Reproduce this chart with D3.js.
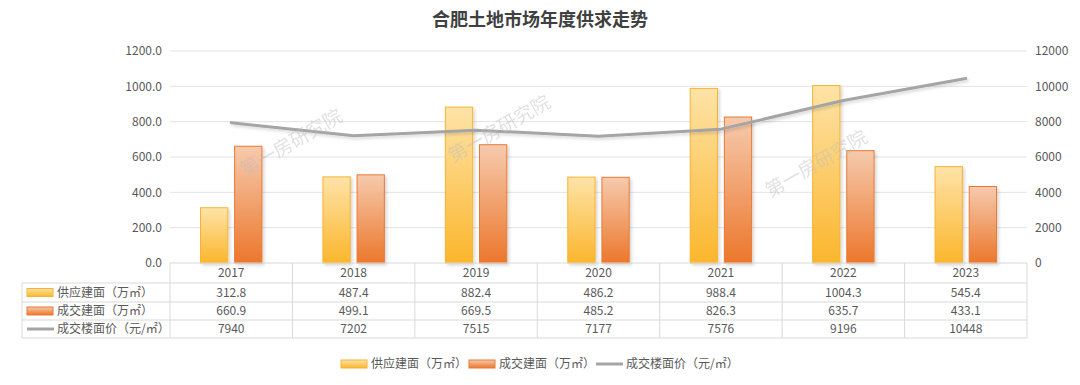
<!DOCTYPE html>
<html>
<head>
<meta charset="utf-8">
<script src="https://cdn.jsdelivr.net/npm/d3@7"></script>
<style>
  body { margin: 0; background: #fff; }
  svg text { font-family: "Noto Sans CJK SC", "Noto Sans", sans-serif; }
</style>
</head>
<body>
<svg id="chart"></svg>
<script>
// data
const years = ['2017', '2018', '2019', '2020', '2021', '2022', '2023'];
const supplyArea = [312.8, 487.4, 882.4, 486.2, 988.4, 1004.3, 545.4];
const dealArea = [660.9, 499.1, 669.5, 485.2, 826.3, 635.7, 433.1];
const dealPrice = [7940, 7202, 7515, 7177, 7576, 9196, 10448];
const seriesNames = ['供应建面（万㎡）', '成交建面（万㎡）', '成交楼面价（元/㎡）'];
const leftTicks = [0, 200, 400, 600, 800, 1000, 1200];
const rightTicks = [0, 2000, 4000, 6000, 8000, 10000, 12000];
const chartTitle = '合肥土地市场年度供求走势';
const watermark = '第一房研究院';

const W = 1080, H = 385;
const plot = { left: 170, right: 1027, top: 51, bottom: 263 };
const tableLeft = 22;
const rowLines = [263, 283, 302, 320, 338];
const textColor = '#595959';
const gridColor = '#e3e3e3';
const tableColor = '#d9d9d9';

const svg = d3.select('#chart').attr('width', W).attr('height', H);
const defs = svg.append('defs');

function gradient(id, top, bottom) {
    const g = defs.append('linearGradient').attr('id', id)
        .attr('x1', 0).attr('y1', 0).attr('x2', 0).attr('y2', 1);
    g.append('stop').attr('offset', '0%').attr('stop-color', top);
    g.append('stop').attr('offset', '100%').attr('stop-color', bottom);
}
gradient('gSupply', '#fee3a8', '#fbb62c');
gradient('gDeal', '#f6caad', '#ec772c');

const shadow = defs.append('filter').attr('id', 'shadow')
    .attr('x', '-20%').attr('y', '-20%').attr('width', '150%').attr('height', '150%');
shadow.append('feDropShadow').attr('dx', 2).attr('dy', 2).attr('stdDeviation', 1.8)
    .attr('flood-color', '#000').attr('flood-opacity', 0.15);

// scales
const x = d3.scaleBand().domain(years).range([plot.left, plot.right]).padding(0);
const xSub = d3.scaleBand().domain(['supply', 'deal']).range([30.5, x.bandwidth() - 30.5]).paddingInner(0.2);
const yLeft = d3.scaleLinear().domain([0, 1200]).range([plot.bottom, plot.top]);
const yRight = d3.scaleLinear().domain([0, 12000]).range([plot.bottom, plot.top]);

// title
svg.append('text')
    .attr('x', W / 2).attr('y', 26)
    .attr('text-anchor', 'middle')
    .attr('font-size', '18px').attr('font-weight', 'bold')
    .attr('fill', '#404040')
    .text(chartTitle);

// grid
svg.append('g').selectAll('line')
    .data(leftTicks.filter(d => d > 0))
    .join('line')
    .attr('x1', plot.left).attr('x2', plot.right)
    .attr('y1', d => yLeft(d)).attr('y2', d => yLeft(d))
    .attr('stroke', gridColor).attr('stroke-width', 1);

// left axis
const leftAxis = d3.axisLeft(yLeft).tickValues(leftTicks).tickFormat(d3.format('.1f')).tickSize(0).tickPadding(8);
const leftG = svg.append('g').attr('transform', `translate(${plot.left},0)`).call(leftAxis);
leftG.select('.domain').remove();
leftG.selectAll('text').attr('font-size', '12px').attr('fill', textColor).attr('font-family', '"Noto Sans CJK SC", sans-serif');

// right axis
const rightAxis = d3.axisRight(yRight).tickValues(rightTicks).tickFormat(d3.format('d')).tickSize(0).tickPadding(8);
const rightG = svg.append('g').attr('transform', `translate(${plot.right},0)`).call(rightAxis);
rightG.select('.domain').remove();
rightG.selectAll('text').attr('font-size', '12px').attr('fill', textColor).attr('font-family', '"Noto Sans CJK SC", sans-serif');

// bars
const bars = svg.append('g').attr('filter', 'url(#shadow)');
bars.selectAll('.supply')
    .data(years.map((y, i) => ({ year: y, v: supplyArea[i] })))
    .join('rect')
    .attr('class', 'supply')
    .attr('x', d => x(d.year) + xSub('supply'))
    .attr('width', xSub.bandwidth())
    .attr('y', d => yLeft(d.v))
    .attr('height', d => yLeft(0) - yLeft(d.v))
    .attr('fill', 'url(#gSupply)')
    .attr('stroke', '#f9b232').attr('stroke-width', 1);

bars.selectAll('.deal')
    .data(years.map((y, i) => ({ year: y, v: dealArea[i] })))
    .join('rect')
    .attr('class', 'deal')
    .attr('x', d => x(d.year) + xSub('deal'))
    .attr('width', xSub.bandwidth())
    .attr('y', d => yLeft(d.v))
    .attr('height', d => yLeft(0) - yLeft(d.v))
    .attr('fill', 'url(#gDeal)')
    .attr('stroke', '#e77a35').attr('stroke-width', 1);

// price line
const line = d3.line()
    .x((d, i) => x(years[i]) + x.bandwidth() / 2)
    .y(d => yRight(d));
svg.append('path')
    .datum(dealPrice)
    .attr('d', line)
    .attr('fill', 'none')
    .attr('stroke', '#a5a5a5').attr('stroke-width', 3)
    .attr('stroke-linecap', 'round').attr('stroke-linejoin', 'round')
    .attr('filter', 'url(#shadow)');

// watermarks (drawn over the marks)
const marks = [[292, 144], [500, 130], [817, 165]];
svg.append('g').selectAll('text')
    .data(marks)
    .join('text')
    .attr('transform', d => `translate(${d[0]},${d[1]}) rotate(-30)`)
    .attr('text-anchor', 'middle').attr('dominant-baseline', 'middle')
    .attr('font-size', '19px')
    .attr('fill', '#bdbdbd').attr('opacity', 0.45)
    .text(watermark);

// data table
const table = svg.append('g');
// horizontal lines
table.append('line')
    .attr('x1', plot.left).attr('x2', plot.right)
    .attr('y1', rowLines[0]).attr('y2', rowLines[0])
    .attr('stroke', tableColor);
rowLines.slice(1).forEach(yy => {
    table.append('line')
        .attr('x1', tableLeft).attr('x2', plot.right)
        .attr('y1', yy).attr('y2', yy)
        .attr('stroke', tableColor);
});
// vertical lines
x.domain().forEach(y => {
    table.append('line')
        .attr('x1', x(y)).attr('x2', x(y))
        .attr('y1', rowLines[0]).attr('y2', rowLines[4])
        .attr('stroke', tableColor);
});
table.append('line')
    .attr('x1', plot.right).attr('x2', plot.right)
    .attr('y1', rowLines[0]).attr('y2', rowLines[4])
    .attr('stroke', tableColor);
table.append('line')
    .attr('x1', tableLeft).attr('x2', tableLeft)
    .attr('y1', rowLines[1]).attr('y2', rowLines[4])
    .attr('stroke', tableColor);

const rowMid = i => (rowLines[i] + rowLines[i + 1]) / 2;

// header years
table.selectAll('.yr')
    .data(years)
    .join('text')
    .attr('class', 'yr')
    .attr('x', d => x(d) + x.bandwidth() / 2)
    .attr('y', rowMid(0))
    .attr('dy', '0.35em')
    .attr('text-anchor', 'middle')
    .attr('font-size', '12px').attr('fill', textColor)
    .text(d => d);

const rows = [supplyArea.map(v => v.toFixed(1)), dealArea.map(v => v.toFixed(1)), dealPrice.map(v => String(v))];
rows.forEach((vals, r) => {
    table.selectAll('.r' + r)
        .data(vals)
        .join('text')
        .attr('class', 'r' + r)
        .attr('x', (d, i) => x(years[i]) + x.bandwidth() / 2)
        .attr('y', rowMid(r + 1))
        .attr('dy', '0.35em')
        .attr('text-anchor', 'middle')
        .attr('font-size', '12px').attr('fill', textColor)
        .text(d => d);
});

// legend keys (table + bottom legend)
function drawKey(g, k, kx, ky) {
    if (k === 0 || k === 1) {
        g.append('rect')
            .attr('x', kx).attr('y', ky - 4).attr('width', 26).attr('height', 8)
            .attr('fill', k === 0 ? 'url(#gSupply)' : 'url(#gDeal)')
            .attr('stroke', k === 0 ? '#f9b232' : '#e77a35').attr('stroke-width', 1);
    } else {
        g.append('line')
            .attr('x1', kx).attr('x2', kx + 27)
            .attr('y1', ky).attr('y2', ky)
            .attr('stroke', '#a5a5a5').attr('stroke-width', 3);
    }
}

seriesNames.forEach((name, k) => {
    const cy = rowMid(k + 1);
    drawKey(table, k, 27, cy);
    table.append('text')
        .attr('x', 57).attr('y', cy).attr('dy', '0.35em')
        .attr('font-size', '12px').attr('fill', textColor)
        .text(name);
});

// bottom legend
const legend = svg.append('g');
const legendX = [341, 469, 596];
seriesNames.forEach((name, k) => {
    drawKey(legend, k, legendX[k], 364);
    legend.append('text')
        .attr('x', legendX[k] + 30).attr('y', 364).attr('dy', '0.35em')
        .attr('font-size', '12px').attr('fill', textColor)
        .text(name);
});
</script>
</body>
</html>
